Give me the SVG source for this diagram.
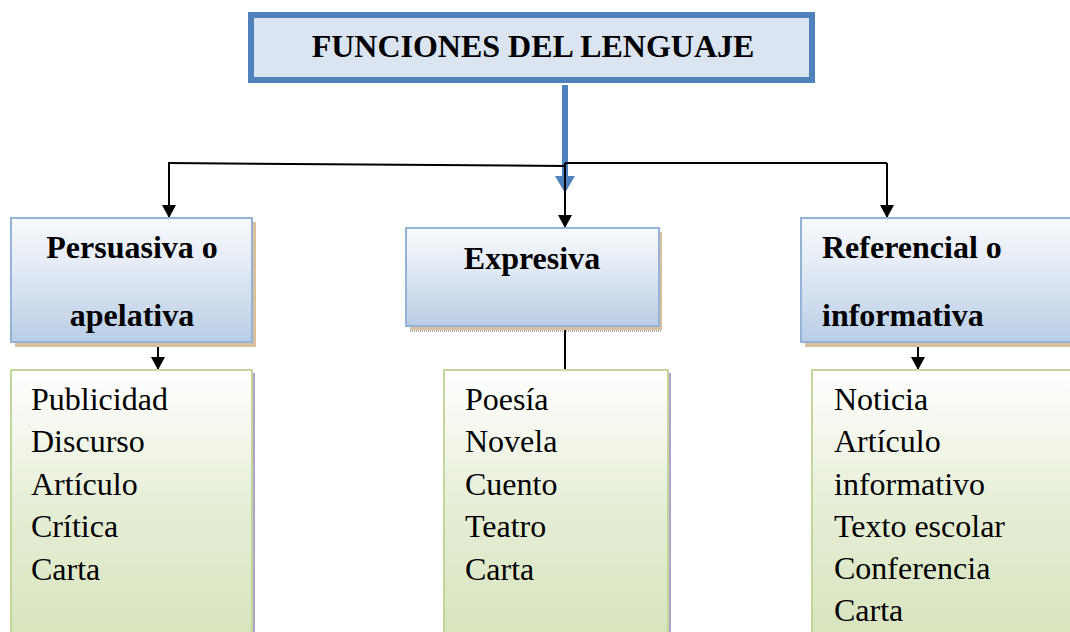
<svg xmlns="http://www.w3.org/2000/svg" width="1070" height="632" viewBox="0 0 1070 632">
<defs>
<linearGradient id="gBlue" x1="0" y1="0" x2="0" y2="1">
<stop offset="0" stop-color="#f7f9fc"/>
<stop offset="0.35" stop-color="#e6edf6"/>
<stop offset="1" stop-color="#b9cde5"/>
</linearGradient>
<linearGradient id="gGreen" x1="0" y1="0" x2="0" y2="1">
<stop offset="0" stop-color="#ffffff"/>
<stop offset="0.5" stop-color="#e6eed6"/>
<stop offset="1" stop-color="#d7e4bd"/>
</linearGradient>
<marker id="ah" markerWidth="13" markerHeight="14" refX="13" refY="7" orient="auto" markerUnits="userSpaceOnUse" viewBox="0 0 13 14">
<path d="M0,0 L13,7 L0,14 Z" fill="#000"/>
</marker>
<style>
.bold{font-family:"Liberation Serif","Times New Roman",serif;font-weight:bold;font-size:32px;fill:#000}
.item{font-family:"Liberation Serif","Times New Roman",serif;font-size:32px;fill:#000}
.hdr{fill:url(#gBlue);stroke:#95b3d7;stroke-width:2}
.lst{fill:url(#gGreen);stroke:#c3d69b;stroke-width:2}
.sh{fill:#d9bf9b}
.shp{fill:#b3a2c7}
.con{stroke:#000;stroke-width:2;fill:none}
</style>
</defs>

<g id="title">
<rect x="251" y="15" width="561" height="65" fill="#dbe5f1" stroke="#4f81bd" stroke-width="6"/>
<text class="bold" x="533" y="57" text-anchor="middle">FUNCIONES DEL LENGUAJE</text>
</g>

<g id="connectors">
<line x1="565" y1="85" x2="565" y2="176" stroke="#4f81bd" stroke-width="6"/>
<polygon points="555,176 575,176 565,193" fill="#4f81bd"/>
<path class="con" d="M168,163 L565,166"/>
<path class="con" d="M565,163 L887,163"/>
<line class="con" x1="169" y1="163" x2="169" y2="218" marker-end="url(#ah)"/>
<line class="con" x1="565" y1="163" x2="565" y2="228" marker-end="url(#ah)"/>
<line class="con" x1="887" y1="163" x2="887" y2="218" marker-end="url(#ah)"/>
<line class="con" x1="158" y1="328" x2="158" y2="370" marker-end="url(#ah)"/>
<line class="con" x1="565" y1="316" x2="565" y2="370"/>
<line class="con" x1="918" y1="328" x2="918" y2="370" marker-end="url(#ah)"/>
</g>

<g id="persuasiva">
<rect class="sh" x="15" y="222" width="241" height="125"/>
<rect class="hdr" x="11" y="218" width="241" height="124"/>
<text class="bold" x="132" y="258" text-anchor="middle">Persuasiva o</text>
<text class="bold" x="132" y="326" text-anchor="middle">apelativa</text>
</g>

<g id="expresiva">
<rect class="sh" x="410" y="232" width="252" height="98"/>
<line x1="410" y1="331" x2="662" y2="331" stroke="#555" stroke-width="1" stroke-dasharray="1,1"/>
<rect class="hdr" x="406" y="228" width="253" height="98"/>
<text class="bold" x="532" y="269" text-anchor="middle">Expresiva</text>
</g>

<g id="referencial">
<rect class="sh" x="805" y="222" width="270" height="125"/>
<rect class="hdr" x="801" y="218" width="275" height="124"/>
<text class="bold" x="822" y="258">Referencial o</text>
<text class="bold" x="822" y="326">informativa</text>
</g>

<g id="lista-persuasiva">
<rect class="shp" x="14" y="373" width="241" height="270"/>
<rect class="lst" x="11" y="370" width="241" height="270"/>
<text class="item" x="31" y="410">Publicidad</text>
<text class="item" x="31" y="452">Discurso</text>
<text class="item" x="31" y="495">Artículo</text>
<text class="item" x="31" y="537">Crítica</text>
<text class="item" x="31" y="580">Carta</text>
</g>

<g id="lista-expresiva">
<rect class="shp" x="447" y="373" width="224" height="270"/>
<rect class="lst" x="444" y="370" width="224" height="270"/>
<text class="item" x="465" y="410">Poesía</text>
<text class="item" x="465" y="452">Novela</text>
<text class="item" x="465" y="495">Cuento</text>
<text class="item" x="465" y="537">Teatro</text>
<text class="item" x="465" y="580">Carta</text>
</g>

<g id="lista-referencial">
<rect class="lst" x="812" y="370" width="270" height="270"/>
<text class="item" x="834" y="410">Noticia</text>
<text class="item" x="834" y="452">Artículo</text>
<text class="item" x="834" y="495">informativo</text>
<text class="item" x="834" y="537">Texto escolar</text>
<text class="item" x="834" y="579">Conferencia</text>
<text class="item" x="834" y="621">Carta</text>
</g>
</svg>
